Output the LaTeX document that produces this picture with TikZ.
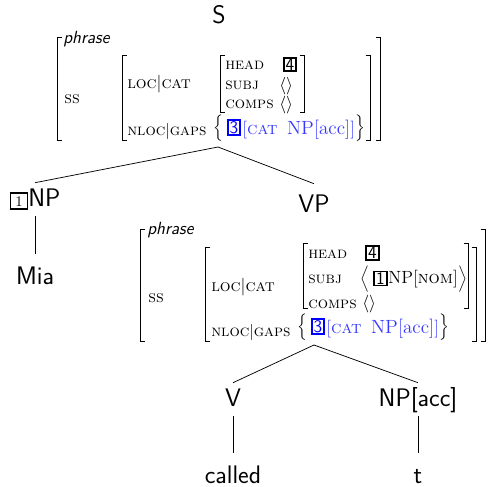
\documentclass[tikz,border=0pt]{standalone}
\definecolor{tagblue}{RGB}{0,0,255}
\definecolor{avmblue}{RGB}{55,55,255}
\newcommand{\avmL}[3]{\draw[brk] (#1+4.5,#2) -- (#1,#2) -- (#1,#3) -- (#1+4.5,#3);}
\newcommand{\avmR}[3]{\draw[brk] (#1-4.5,#2) -- (#1,#2) -- (#1,#3) -- (#1-4.5,#3);}
\newcommand{\npone}{{\setlength{\fboxsep}{1.6pt}\setlength{\fboxrule}{1.1pt}\fbox{\fontsize{10}{11}\selectfont\rmfamily\hspace{1.2pt}1\hspace{1.2pt}}}}
\newcommand{\gapcontent}{$\bigl[$\textsc{cat}\hspace{6.5pt}{\fontsize{13}{15}\selectfont NP[acc]}$\bigr]$}
\begin{document}
\begin{tikzpicture}[x=0.68pt, y=-0.68pt,
  lbl/.style={font=\fontsize{17.28}{20}\selectfont\sffamily, inner sep=0pt, anchor=base, text height=15.64pt, text depth=6.8pt},
  avm/.style={font=\fontsize{12}{14}\selectfont, inner sep=0pt, anchor=base west},
  attr/.style={avm, font=\fontsize{11.5}{13}\selectfont},
  nattr/.style={avm, font=\fontsize{11}{13}\selectfont},
  feat/.style={avm, font=\fontsize{11}{13}\selectfont},
  typ/.style={avm, font=\fontsize{12}{14}\selectfont\sffamily\itshape},
  delim/.style={avm, anchor=west, font=\fontsize{11}{13}\selectfont},
  tagbox/.style={draw, line width=1.2pt, inner xsep=1.3pt, inner ysep=0.7pt, font=\fontsize{12}{14}\selectfont\sffamily},
  bluetag/.style={tagbox, draw=tagblue, text=tagblue},
  gapval/.style={avm, text=avmblue},
  brk/.style={line width=0.5pt},
  edge/.style={line width=0.5pt}]
\useasboundingbox (0,0) rectangle (495,487);

% ---------- S with its AVM ----------
\node[lbl] (s) at (219,23) {S};
\node[typ] (t-type) at (63,43) {phrase};
\node[attr] (t-ss) at (64,103.5) {\textsc{ss}};
\node[attr] (t-loc) at (127,88) {\textsc{loc}$|$\textsc{cat}};
\node[nattr] (t-nloc) at (127,135) {\textsc{nloc}$|$\textsc{gaps}};
\node[feat] (t-head) at (225,69) {\textsc{head}};
\node[feat] (t-subj) at (225,89) {\textsc{subj}};
\node[feat] (t-comps) at (225,108.5) {\textsc{comps}};
\node[tagbox] (t-tag4) at (290,64.5) {4};
\node[avm] (t-subjv) at (279,90) {$\langle\rangle$};
\node[avm] (t-compsv) at (279,109) {$\langle\rangle$};
\node[delim] (t-lbrace) at (213,128.5) {$\Big\{$};
\node[bluetag] (t-tag3) at (234,127.5) {3};
\node[gapval] (t-gap) at (242,134) {\gapcontent};
\node[delim] (t-rbrace) at (t-gap.east |- t-lbrace.west) {$\Big\}$};
\avmL{57}{37}{140} \avmR{380}{37}{140}
\avmL{122}{55}{140} \avmR{370}{55}{140}
\avmL{220}{55}{112} \avmR{304}{55}{112}
\coordinate (t-root) at (218,147);

% ---------- daughters ----------
\node[lbl] (np) at (35,206) {\npone NP};
\node[lbl, text height=20.4pt] (mia) at (35,284) {Mia};
\node[lbl, text height=19.04pt] (vp) at (314,212) {VP};

% ---------- VP AVM ----------
\node[typ] (b-type) at (147,234) {phrase};
\node[attr] (b-ss) at (148,302.5) {\textsc{ss}};
\node[attr] (b-loc) at (211,291) {\textsc{loc}$|$\textsc{cat}};
\node[nattr] (b-nloc) at (211,336) {\textsc{nloc}$|$\textsc{gaps}};
\node[feat] (b-head) at (308,258) {\textsc{head}};
\node[feat] (b-subj) at (308,283) {\textsc{subj}};
\node[feat] (b-comps) at (308,308) {\textsc{comps}};
\node[tagbox] (b-tag4) at (372.5,253) {4};
\node[delim] (b-langle) at (360,279) {$\Big\langle$};
\node[tagbox] (b-tag1) at (380.5,278.5) {1};
\node[avm] (b-np) at (388,283) {NP[\textsc{nom}]};
\node[delim] (b-rangle) at (b-np.east |- b-langle.west) {$\Big\rangle$};
\node[avm] (b-compsv) at (362,308) {$\langle\rangle$};
\node[delim] (b-lbrace) at (297,327) {$\Big\{$};
\node[bluetag] (b-tag3) at (318,326.5) {3};
\node[gapval] (b-gap) at (326,333) {\gapcontent};
\node[delim] (b-rbrace) at (b-gap.east |- b-lbrace.west) {$\Big\}$};
\avmL{140}{229}{341} \avmR{485}{229}{341}
\avmL{205}{247}{341} \avmR{476}{247}{341}
\avmL{303}{243}{308} \avmR{468}{243}{308}
\coordinate (b-root) at (314,345);

\node[lbl] (v) at (233,406) {V};
\node[lbl] (npacc) at (418,406) {NP[acc]};
\node[lbl, text height=20.4pt] (called) at (233,483) {called};
\node[lbl, text height=20.4pt] (trace) at (418,483) {t};

% ---------- connectors ----------
\draw[edge] (t-root) -- (np.north);
\draw[edge] (t-root) -- (vp.north);
\draw[edge] (np.south) -- (mia.north);
\draw[edge] (b-root) -- (v.north);
\draw[edge] (b-root) -- (npacc.north);
\draw[edge] (v.south) -- (called.north);
\draw[edge] (npacc.south) -- (trace.north);
\end{tikzpicture}
\end{document}
